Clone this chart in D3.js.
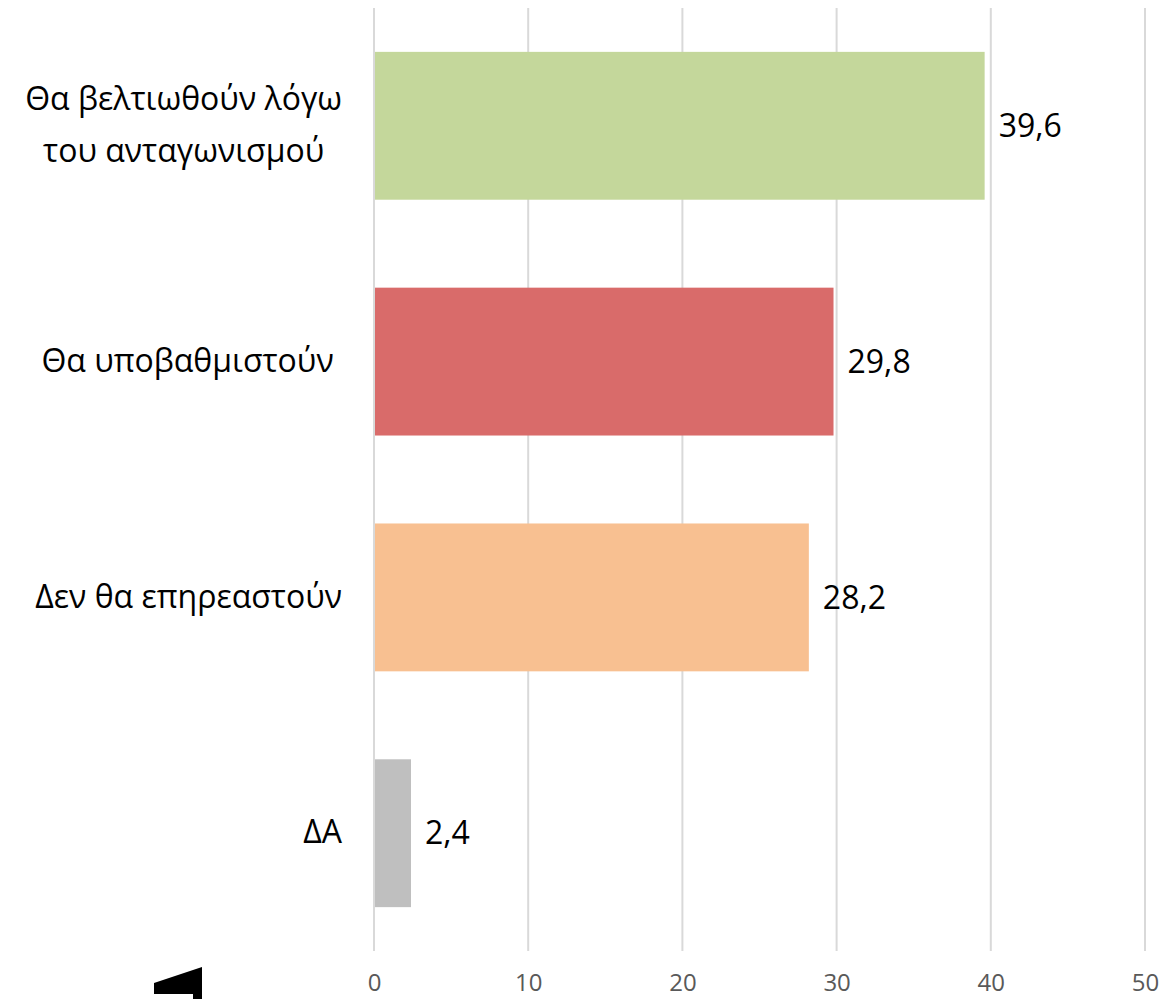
<!DOCTYPE html>
<html>
<head>
<meta charset="utf-8">
<script src="https://cdn.jsdelivr.net/npm/d3@7"></script>
<style>
  html, body { margin: 0; padding: 0; background: #fff; }
  svg { display: block; font-family: 'Open Sans', 'Noto Sans', sans-serif; }
  .cat { white-space: pre; }
</style>
</head>
<body>
<div id="graf"></div>
<script>
const categorias = ['Θα βελτιωθούν λόγω|του ανταγωνισμού', 'Θα υποβαθμιστούν ', 'Δεν θα επηρεαστούν', 'ΔΑ']
const valores = [39.6, 29.8, 28.2, 2.4]
const colores = ['#C4D79B', '#D96B6A', '#F8C091', '#BFBFBF']
const ticks = [0, 10, 20, 30, 40, 50]

const anchoTotal = 1165
const altoTotal = 999

const svg = d3.select('#graf')
  .append('svg')
  .attr('width', anchoTotal)
  .attr('height', altoTotal)

const margin = { top: 8, bottom: 48, left: 374, right: 20 }

const x = d3.scaleLinear()
  .domain([0, 50])
  .range([margin.left, 1145])

const y = d3.scaleBand()
  .domain(categorias)
  .range([margin.top, altoTotal - margin.bottom])
  .paddingInner(0.373)
  .paddingOuter(0.186)

// grid
svg.append('g')
  .selectAll('line')
  .data(ticks)
  .join('line')
  .attr('x1', d => x(d))
  .attr('x2', d => x(d))
  .attr('y1', margin.top)
  .attr('y2', altoTotal - margin.bottom)
  .attr('stroke', '#D9D9D9')
  .attr('stroke-width', 2)

// eje x
const xAxis = svg.append('g')
  .attr('transform', `translate(0, ${altoTotal - margin.bottom})`)
  .call(d3.axisBottom(x).tickValues(ticks).tickSize(0).tickPadding(0))
xAxis.select('.domain').remove()
xAxis.selectAll('text')
  .attr('dy', null)
  .attr('y', 40)
  .attr('font-family', "'Open Sans', sans-serif")
  .attr('font-size', 24)
  .attr('fill', '#595959')

// barras
svg.append('g')
  .selectAll('rect')
  .data(valores)
  .join('rect')
  .attr('x', x(0) + 1)
  .attr('y', (d, i) => y(categorias[i]))
  .attr('width', d => x(d) - x(0) - 1)
  .attr('height', y.bandwidth())
  .attr('fill', (d, i) => colores[i])

// etiquetas de valor
svg.append('g')
  .selectAll('text')
  .data(valores)
  .join('text')
  .attr('x', d => x(d) + 14)
  .attr('y', (d, i) => y(categorias[i]) + y.bandwidth() / 2)
  .attr('dy', '0.35em')
  .attr('font-size', 32)
  .attr('fill', '#000')
  .text(d => d.toFixed(1).replace('.', ','))

// etiquetas de categoria
const labelEnd = 342
const lineH = 52
categorias.forEach(c => {
  const lines = c.split('|')
  const cy = y(c) + y.bandwidth() / 2 - 1
  const g = svg.append('g')
  const texts = lines.map((l, j) => g.append('text')
    .attr('class', 'cat')
    .attr('y', cy + (j - (lines.length - 1) / 2) * lineH)
    .attr('dy', '0.35em')
    .attr('font-size', 32)
    .attr('fill', '#000')
    .text(l))
  const widths = texts.map(t => t.node().getComputedTextLength())
  const maxW = d3.max(widths)
  texts.forEach(t => {
    t.attr('x', labelEnd - maxW / 2).attr('text-anchor', 'middle')
  })
})

// marca negra abajo a la izquierda
svg.append('path')
  .attr('d', 'M154,983 L202,967 L202,999 L193,999 L193,994 L154,994 Z')
  .attr('fill', '#000')
</script>
</body>
</html>
